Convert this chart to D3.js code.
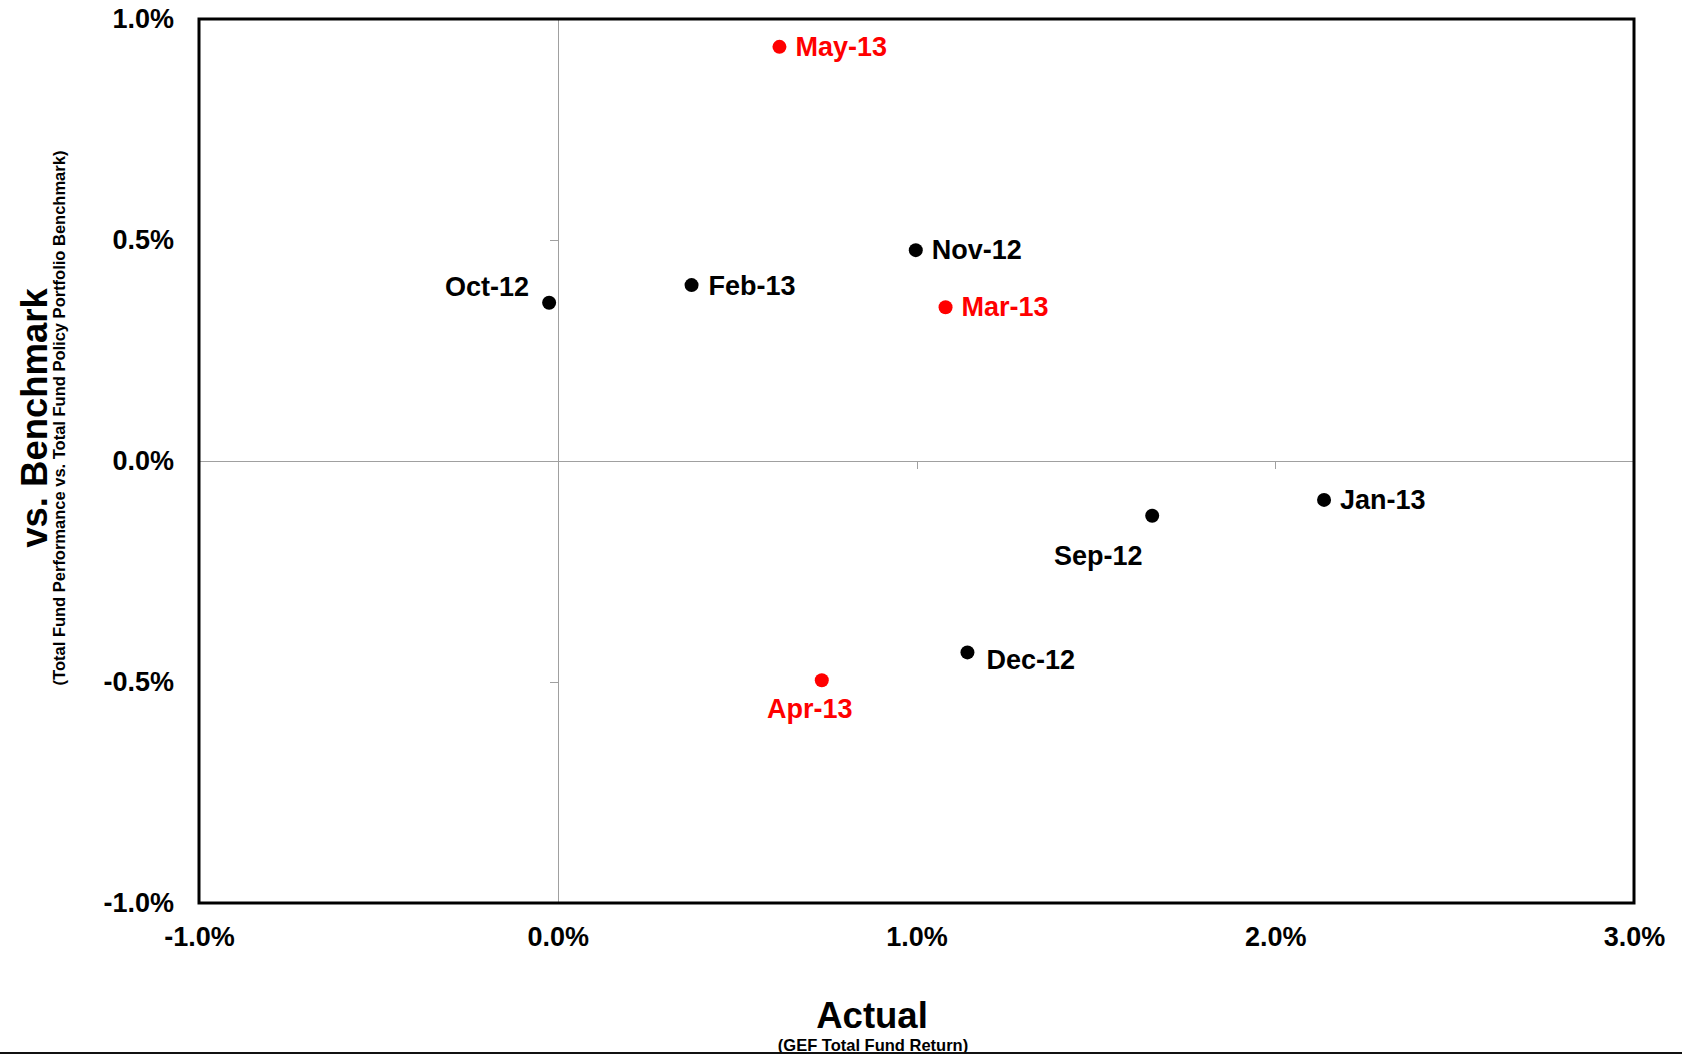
<!DOCTYPE html>
<html>
<meta charset="utf-8">
<head>
	<title>Actual vs. Benchmark</title>
	<script type="text/javascript" src="https://cdn.jsdelivr.net/npm/d3@7/dist/d3.min.js"></script>
	<style>
		body { margin: 0; background: #fff; }
		text { font-family: "Liberation Sans", Arial, sans-serif; font-weight: bold; }
		.guide path, .guide line { stroke: #a0a0a0; stroke-width: 1; shape-rendering: crispEdges; }
		.labels path { display: none; }
	</style>
</head>
<body>
	<div class="chart-container"></div>
</body>
</html>

<script type="text/javascript">
// months and their (actual return, relative to benchmark) in %
var months   = ["Sep-12", "Oct-12", "Nov-12", "Dec-12", "Jan-13", "Feb-13", "Mar-13", "Apr-13", "May-13"];
var actual   = [1.657, -0.024, 0.998, 1.142, 2.136, 0.373, 1.081, 0.736, 0.618];
var vsBench  = [-0.124, 0.358, 0.477, -0.433, -0.088, 0.398, 0.348, -0.496, 0.937];
var recent   = ["Mar-13", "Apr-13", "May-13"];   // drawn in red

var xTicks = [-1, 0, 1, 2, 3];
var yTicks = [-1, -0.5, 0, 0.5, 1];

// where each label sits relative to its dot (layout only)
var labelPlace = {
	"Sep-12": {dx: -54, dy: 49, anchor: "middle"},
	"Oct-12": {dx: -20, dy: -7, anchor: "end"},
	"Nov-12": {dx: 16, dy: 9, anchor: "start"},
	"Dec-12": {dx: 19, dy: 17, anchor: "start"},
	"Jan-13": {dx: 16, dy: 9, anchor: "start"},
	"Feb-13": {dx: 17, dy: 10, anchor: "start"},
	"Mar-13": {dx: 16, dy: 9, anchor: "start"},
	"Apr-13": {dx: -12, dy: 38, anchor: "middle"},
	"May-13": {dx: 16, dy: 9, anchor: "start"}
};

var width = 1682, height = 1055;
var box = {left: 199, top: 19, right: 1634, bottom: 903};

var svg = d3.select(".chart-container").append("svg")
	.attr("width", width)
	.attr("height", height);

var x = d3.scaleLinear().domain([-1, 3]).range([box.left, box.right]);
var y = d3.scaleLinear().domain([-1, 1]).range([box.bottom, box.top]);
// plain hyphen for negatives, like the original
var fmt = function(d) { return d.toFixed(1) + "%"; };

var points = months.map(function(m, i) {
	return {name: m, x: actual[i], y: vsBench[i], red: recent.indexOf(m) >= 0};
});

// zero lines with their small ticks
svg.append("g")
	.attr("class", "guide")
	.attr("transform", "translate(" + x(0) + ",0)")
	.call(d3.axisLeft(y).tickValues(yTicks).tickSize(8).tickSizeOuter(0).tickFormat(""));

svg.append("g")
	.attr("class", "guide")
	.attr("transform", "translate(0," + y(0) + ")")
	.call(d3.axisBottom(x).tickValues(xTicks).tickSize(8).tickSizeOuter(0).tickFormat(""));

// frame
svg.append("rect")
	.attr("x", box.left)
	.attr("y", box.top)
	.attr("width", box.right - box.left)
	.attr("height", box.bottom - box.top)
	.attr("fill", "none")
	.attr("stroke", "#000")
	.attr("stroke-width", 3);

// tick labels outside the frame
svg.append("g")
	.attr("class", "labels")
	.attr("transform", "translate(" + box.left + ",0)")
	.call(d3.axisLeft(y).tickValues(yTicks).tickSize(0).tickPadding(25).tickFormat(fmt));

svg.append("g")
	.attr("class", "labels")
	.attr("transform", "translate(0," + box.bottom + ")")
	.call(d3.axisBottom(x).tickValues(xTicks).tickSize(0).tickPadding(24).tickFormat(fmt));

svg.selectAll(".labels text")
	.style("font-family", "'Liberation Sans', Arial, sans-serif")
	.style("font-weight", "bold")
	.style("font-size", "27px")
	.attr("fill", "#000");

// points
var gnodes = svg.selectAll("g.pt")
	.data(points)
	.enter().append("g")
	.attr("class", "pt")
	.attr("transform", function(d) { return "translate(" + x(d.x) + "," + y(d.y) + ")"; });

gnodes.append("circle")
	.attr("r", 7)
	.attr("fill", function(d) { return d.red ? "#ff0000" : "#000"; });

gnodes.append("text")
	.text(function(d) { return d.name; })
	.attr("x", function(d) { return labelPlace[d.name].dx; })
	.attr("y", function(d) { return labelPlace[d.name].dy; })
	.attr("text-anchor", function(d) { return labelPlace[d.name].anchor; })
	.attr("font-size", 27)
	.attr("fill", function(d) { return d.red ? "#ff0000" : "#000"; });

// axis titles
svg.append("text")
	.attr("x", 872)
	.attr("y", 1028)
	.attr("text-anchor", "middle")
	.attr("font-size", 36.5)
	.text("Actual");

svg.append("text")
	.attr("x", 873)
	.attr("y", 1051)
	.attr("text-anchor", "middle")
	.attr("font-size", 16.5)
	.text("(GEF Total Fund Return)");

svg.append("text")
	.attr("transform", "translate(47,418) rotate(-90)")
	.attr("text-anchor", "middle")
	.attr("font-size", 36.5)
	.text("vs. Benchmark");

svg.append("text")
	.attr("transform", "translate(65,418) rotate(-90)")
	.attr("text-anchor", "middle")
	.attr("font-size", 16.5)
	.text("(Total Fund Performance vs. Total Fund Policy Portfolio Benchmark)");

// rule along the bottom edge
svg.append("line")
	.attr("x1", 0).attr("x2", width)
	.attr("y1", 1053).attr("y2", 1053)
	.attr("stroke", "#111")
	.attr("stroke-width", 2);
</script>
